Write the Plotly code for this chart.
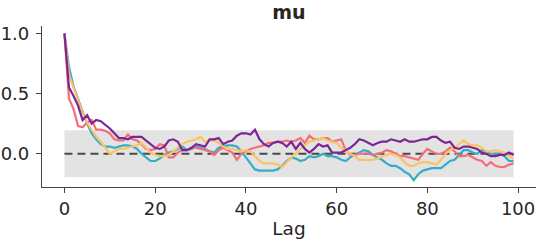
import numpy as np
import plotly.graph_objects as go

lags = list(range(100))

chain_teal = [1.00, 0.72, 0.56, 0.45, 0.35, 0.25, 0.17, 0.12, 0.08, 0.06,
              0.06, 0.05, 0.06, 0.07, 0.07, 0.06, 0.04, 0.00, -0.03, -0.06,
              -0.06, -0.04, -0.01, 0.01, 0.02, 0.04, 0.06, 0.03, 0.04, 0.06,
              0.05, 0.04, 0.02, 0.01, 0.05, 0.06, 0.07, 0.07, 0.06, 0.02,
              -0.03, -0.09, -0.13, -0.14, -0.14, -0.14, -0.14, -0.13, -0.10, -0.06,
              -0.03, -0.04, -0.06, -0.05, -0.02, -0.03, -0.02, 0.00, -0.02, -0.02,
              -0.03, -0.05, -0.06, -0.03, -0.01, 0.01, 0.03, 0.02, -0.01, -0.03,
              -0.05, -0.08, -0.10, -0.10, -0.12, -0.15, -0.17, -0.22, -0.17, -0.14,
              -0.13, -0.12, -0.12, -0.12, -0.09, -0.06, -0.05, -0.01, 0.03, 0.03,
              0.01, 0.00, 0.03, 0.02, 0.00, 0.00, 0.00, -0.02, -0.06, -0.06]

chain_pink = [1.00, 0.46, 0.37, 0.23, 0.22, 0.26, 0.28, 0.20, 0.20, 0.19,
              0.17, 0.12, 0.11, 0.11, 0.16, 0.12, 0.11, 0.08, 0.04, 0.03,
              0.04, 0.08, 0.07, -0.03, -0.03, 0.01, 0.03, 0.03, 0.05, 0.05,
              0.04, 0.03, 0.02, -0.01, 0.03, 0.05, 0.03, 0.01, -0.05, 0.00,
              0.02, 0.04, 0.05, 0.06, 0.07, 0.09, 0.09, 0.10, 0.10, 0.11,
              0.10, 0.11, 0.13, 0.09, 0.15, 0.12, 0.12, 0.13, 0.13, 0.10,
              0.11, 0.12, 0.03, -0.01, -0.01, 0.00, 0.00, 0.00, -0.01, 0.00,
              0.01, 0.03, 0.02, 0.00, -0.02, -0.02, -0.03, -0.04, -0.05, 0.00,
              0.04, 0.02, 0.00, 0.00, 0.02, 0.05, 0.02, -0.02, -0.02, -0.01,
              -0.03, -0.05, -0.06, -0.10, -0.07, -0.10, -0.11, -0.11, -0.09, -0.08]

chain_orange = [1.00, 0.66, 0.55, 0.45, 0.34, 0.26, 0.20, 0.14, 0.10, 0.05,
                0.00, 0.02, 0.04, 0.04, 0.05, 0.06, 0.07, 0.09, 0.05, 0.01,
                -0.01, -0.02, -0.02, -0.01, 0.02, 0.05, 0.08, 0.10, 0.11, 0.12,
                0.14, 0.10, 0.11, 0.11, 0.09, 0.06, 0.04, 0.04, 0.03, 0.02,
                0.03, 0.02, -0.02, -0.06, -0.08, -0.08, -0.08, -0.09, -0.11, -0.07,
                -0.03, 0.00, 0.04, 0.07, 0.10, 0.11, 0.12, 0.13, 0.11, 0.10,
                0.09, 0.05, 0.03, 0.00, -0.02, -0.05, -0.05, -0.05, -0.05, -0.04,
                -0.02, -0.01, 0.00, -0.01, -0.03, -0.07, -0.10, -0.10, -0.08, -0.07,
                -0.07, -0.08, -0.09, -0.05, 0.00, 0.03, 0.05, 0.08, 0.11, 0.08,
                0.07, 0.07, 0.05, 0.02, 0.02, 0.03, 0.02, 0.01, -0.02, -0.04]

chain_purple = [1.00, 0.55, 0.48, 0.40, 0.28, 0.32, 0.25, 0.28, 0.27, 0.24,
                0.21, 0.17, 0.13, 0.13, 0.12, 0.14, 0.14, 0.14, 0.11, 0.08,
                0.05, 0.04, 0.06, 0.11, 0.12, 0.10, 0.03, 0.03, 0.05, 0.08,
                0.07, 0.06, 0.12, 0.12, 0.13, 0.08, 0.10, 0.11, 0.15, 0.17,
                0.17, 0.16, 0.20, 0.12, 0.08, 0.06, 0.09, 0.10, 0.09, 0.06,
                0.10, 0.04, 0.09, 0.04, 0.01, 0.04, 0.08, 0.06, 0.07, 0.01,
                0.01, 0.01, 0.03, 0.05, 0.08, 0.12, 0.11, 0.09, 0.07, 0.09,
                0.10, 0.10, 0.12, 0.11, 0.10, 0.12, 0.10, 0.10, 0.11, 0.12,
                0.12, 0.14, 0.14, 0.11, 0.09, 0.10, 0.05, 0.04, 0.06, 0.06,
                0.05, 0.04, 0.01, 0.00, -0.02, -0.02, -0.01, -0.01, 0.01, -0.01]

chains = [chain_teal, chain_pink, chain_orange, chain_purple]
colors = ["#36acc6", "#f66d7a", "#fac364", "#7c2695"]

x_ticks = [0, 20, 40, 60, 80, 100]
y_ticks = [0.0, 0.5, 1.0]
y_ticktext = ["0.0", "0.5", "1.0"]

band = 1.96 / np.sqrt(len(lags))

fig = go.Figure()
# confidence band
fig.add_trace(go.Scatter(x=[lags[0], lags[-1]], y=[-band, -band], mode="lines",
                         line=dict(width=0), hoverinfo="skip", showlegend=False))
fig.add_trace(go.Scatter(x=[lags[0], lags[-1]], y=[band, band], mode="lines",
                         line=dict(width=0), fill="tonexty", fillcolor="#e3e3e3",
                         hoverinfo="skip", showlegend=False))
# zero dashed line
fig.add_trace(go.Scatter(x=[lags[0], lags[-1]], y=[0, 0], mode="lines",
                         line=dict(color="#4a4a4a", width=2, dash="8px,5px"),
                         hoverinfo="skip", showlegend=False))
for c, col in zip(chains, colors):
    fig.add_trace(go.Scatter(x=lags, y=c, mode="lines",
                             line=dict(color=col, width=2.2), showlegend=False))

axis_font = dict(family="DejaVu Sans", size=18, color="#262626")
fig.update_layout(
    width=540, height=241,
    margin=dict(l=42, r=4, t=26, b=54),
    paper_bgcolor="white", plot_bgcolor="white",
    title=dict(text="<b>mu</b>", x=0.535, xanchor="center", y=0.95, yanchor="middle",
               font=dict(family="DejaVu Sans", size=19, color="#262626")),
    xaxis=dict(range=[-4.95, 103.95], tickvals=x_ticks, showgrid=False, zeroline=False,
               showline=True, linecolor="#444444", linewidth=1.2, ticks="outside",
               ticklen=5, tickcolor="#444444", tickfont=axis_font, automargin=False,
               title=dict(text="Lag", font=dict(family="DejaVu Sans", size=18.5, color="#262626"),
                          standoff=4)),
    yaxis=dict(range=[-0.276, 1.061], tickvals=y_ticks, ticktext=y_ticktext,
               showgrid=False, zeroline=False, showline=True, linecolor="#444444",
               linewidth=1.2, ticks="outside", ticklen=5, tickcolor="#444444",
               tickfont=axis_font, ticklabelstandoff=3, automargin=False),
)

fig.write_html("out.html")
